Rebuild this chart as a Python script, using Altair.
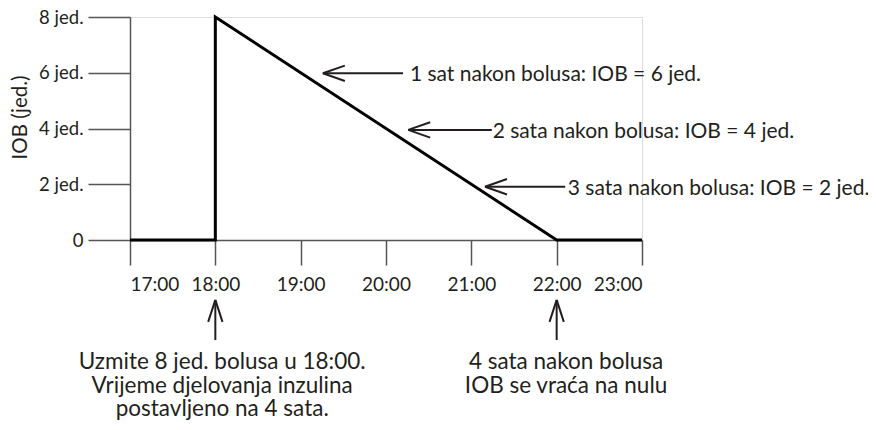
import altair as alt
import pandas as pd

# ---- data ----
hours = [17, 18, 18, 22, 23]
iob = [0, 0, 8, 0, 0]
step = [0, 1, 2, 3, 4]

x_ticks = [17, 18, 19, 20, 21, 22, 23]
x_tick_labels = ["17:00", "18:00", "19:00", "20:00", "21:00", "22:00", "23:00"]
y_ticks = [0, 2, 4, 6, 8]
y_tick_labels = ["0", "2 jed.", "4 jed.", "6 jed.", "8 jed."]
y_title = "IOB (jed.)"

note_texts = [
    "1 sat nakon bolusa: IOB = 6 jed.",
    "2 sata nakon bolusa: IOB = 4 jed.",
    "3 sata nakon bolusa: IOB = 2 jed.",
]
note_iob = [5.98, 3.95, 1.91]
note_tip = [19.26, 20.26, 21.16]
note_tail = [20.20, 21.24, 22.10]
note_text_x = [20.28, 21.25, 22.13]

bottom_texts = [
    "Uzmite 8 jed. bolusa u 18:00.\nVrijeme djelovanja inzulina\npostavljeno na 4 sata.",
    "4 sata nakon bolusa\nIOB se vraća na nulu",
]
bottom_hour = [18, 22]
bottom_text_hour = [18.08, 22.11]
bottom_tip_iob = [-2.15, -2.15]
bottom_tail_iob = [-3.59, -3.59]
bottom_text_iob = [-4.63, -4.63]

# ---- style ----
FONT = "Lato"
INK = "#231f20"
AXIS = "#555555"

line_df = pd.DataFrame({"hour": hours, "iob": iob, "step": step})
note_df = pd.DataFrame({"text": note_texts, "iob": note_iob, "tip": note_tip,
                        "tail": note_tail, "tx": note_text_x})
bot_df = pd.DataFrame({"text": bottom_texts, "hour": bottom_hour, "th": bottom_text_hour,
                       "tip": bottom_tip_iob, "tail": bottom_tail_iob, "ty": bottom_text_iob})


def label_expr(values, labels):
    expr = "''"
    for v, l in reversed(list(zip(values, labels))):
        expr = f"datum.value == {v} ? '{l}' : ({expr})"
    return expr


xscale = alt.Scale(domain=[17, 23], nice=False, zero=False)
yscale = alt.Scale(domain=[0, 8], nice=False, zero=False)

x_axis = alt.Axis(values=x_ticks, labelExpr=label_expr(x_ticks, x_tick_labels), title=None,
                  grid=False, tickSize=25, tickWidth=1.5, tickColor=AXIS, domainColor=AXIS,
                  domainWidth=1.5, labelFont=FONT, labelFontSize=19, labelColor=INK,
                  labelPadding=10)
y_axis = alt.Axis(values=y_ticks, labelExpr=label_expr(y_ticks, y_tick_labels), title=y_title,
                  grid=False, tickSize=42, tickWidth=1.5, tickColor=AXIS, domainColor=AXIS,
                  domainWidth=1.5, labelFont=FONT, labelFontSize=18.5, labelColor=INK,
                  labelPadding=5, titleFont=FONT, titleFontSize=20.5, titleFontWeight="normal",
                  titleColor=INK, titleAngle=270, titleX=-110, titleY=100,
                  titleBaseline="middle", titleAlign="center")


def X(field):
    return alt.X(field, type="quantitative", scale=xscale, axis=x_axis)


def Y(field):
    return alt.Y(field, type="quantitative", scale=yscale, axis=y_axis)


line = alt.Chart(line_df).mark_line(color="black", strokeWidth=3, clip=False).encode(
    x=X("hour"), y=Y("iob"), order=alt.Order("step:O"),
)

note_rule = alt.Chart(note_df).mark_rule(color=INK, strokeWidth=2, clip=False).encode(
    x=X("tip"), x2="tail:Q", y=Y("iob"),
)
note_head = alt.Chart(note_df).mark_point(
    shape="M0,0L2,-0.7M0,0L2,0.7", size=484, filled=False, strokeWidth=2, color=INK,
    opacity=1, clip=False).encode(x=X("tip"), y=Y("iob"))
note_text = alt.Chart(note_df).mark_text(
    align="left", baseline="alphabetic", dy=8, font=FONT, fontSize=21, color=INK,
    clip=False).encode(x=X("tx"), y=Y("iob"), text="text:N")

bot_rule = alt.Chart(bot_df).mark_rule(color=INK, strokeWidth=2, clip=False).encode(
    x=X("hour"), y=Y("tip"), y2="tail:Q",
)
bot_head = alt.Chart(bot_df).mark_point(
    shape="M0,0L-0.65,2M0,0L0.65,2", size=484, filled=False, strokeWidth=2, color=INK,
    opacity=1, clip=False).encode(x=X("hour"), y=Y("tip"))
bot_text = alt.Chart(bot_df).mark_text(
    align="center", baseline="alphabetic", lineBreak="\n", lineHeight=23.5, font=FONT,
    fontSize=22.5, color=INK, clip=False).encode(x=X("th"), y=Y("ty"), text="text:N")

chart = alt.layer(line, note_rule, note_head, note_text, bot_rule, bot_head, bot_text).properties(
    width=512, height=223,
    autosize=alt.AutoSizeParams(type="none"),
    padding={"left": 122, "top": 9, "right": 226, "bottom": 182},
).configure_view(strokeWidth=0, stroke="transparent").configure(background="white")

chart.save("out.html", embed_options={"renderer": "svg", "actions": False})
